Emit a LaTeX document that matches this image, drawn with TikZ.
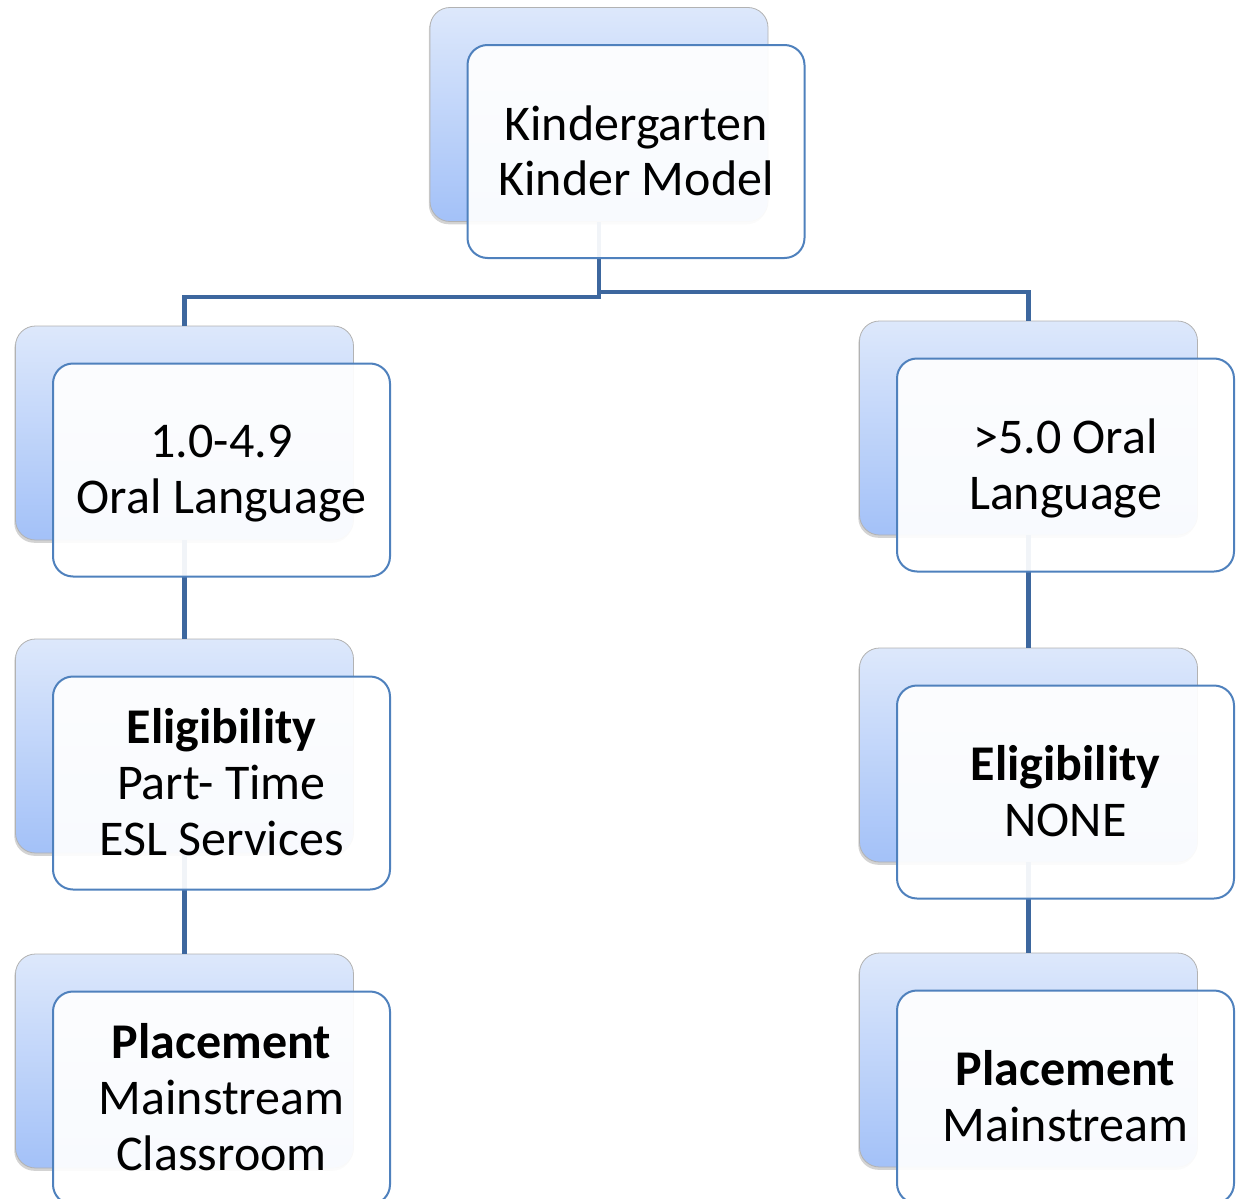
\documentclass[tikz,border=0pt]{standalone}
\usepackage{fontspec}
\setmainfont{Carlito}
\usetikzlibrary{positioning,backgrounds,shadows}

\definecolor{edgeblue}{HTML}{4F81BD}
\definecolor{linkblue}{HTML}{3D679E}
\definecolor{backtop}{HTML}{DDE8FB}
\definecolor{backbot}{HTML}{A3C1F8}

\tikzstyle{every node}+=[font=\fontsize{25}{27.8}\selectfont]
\tikzstyle{frontbox}=[rectangle,rounded corners=10pt,draw=edgeblue,line width=1pt,fill=white,fill opacity=0.93,text opacity=1,minimum width=168.5pt,minimum height=106.5pt,align=center,inner xsep=0pt,inner ysep=0pt,text depth=1pt]
\tikzstyle{backbox}=[rectangle,rounded corners=10pt,draw=gray!60,line width=0.4pt,top color=backtop,bottom color=backbot,minimum width=169pt,minimum height=107pt,drop shadow={shadow xshift=-0.6pt,shadow yshift=-1.4pt,opacity=0.35}]
\tikzstyle{link}=[draw=linkblue,line width=2.2pt]

\begin{document}
\begin{tikzpicture}[x=0.5pt,y=-0.5pt]
\useasboundingbox (0,0) rectangle (1238,1199);

\node[frontbox] (k) at (636,151.5) {Kindergarten\\Kinder Model};

\node[frontbox] (l1) at (221.5,470) {1.0-4.9\\Oral Language};
\node[frontbox,below=49pt of l1] (l2) {\textbf{Eligibility}\\Part- Time\\ESL Services};
\node[frontbox,below=50pt of l2] (l3) {\textbf{Placement}\\Mainstream\\Classroom};

\node[frontbox] (r1) at (1065.5,465) {>5.0 Oral\\Language};
\node[frontbox,below=56pt of r1] (r2) {\textbf{Eligibility}\\NONE};
\node[frontbox,below=45pt of r2] (r3) {\textbf{Placement}\\Mainstream};

\begin{scope}[on background layer]
\foreach \n in {k,l1,l2,l3,r1,r2,r3}
  \node[backbox] (\n b) at ([shift={(-37,-37)}]\n.center) {};

\draw[link] (kb.south) -- ++(0,75) -| (l1b.north);
\draw[link] (kb.south) -- ++(0,70) -| (r1b.north);
\draw[link] (l1b.south) -- (l2b.north);
\draw[link] (l2b.south) -- (l3b.north);
\draw[link] (r1b.south) -- (r2b.north);
\draw[link] (r2b.south) -- (r3b.north);
\end{scope}
\end{tikzpicture}
\end{document}
